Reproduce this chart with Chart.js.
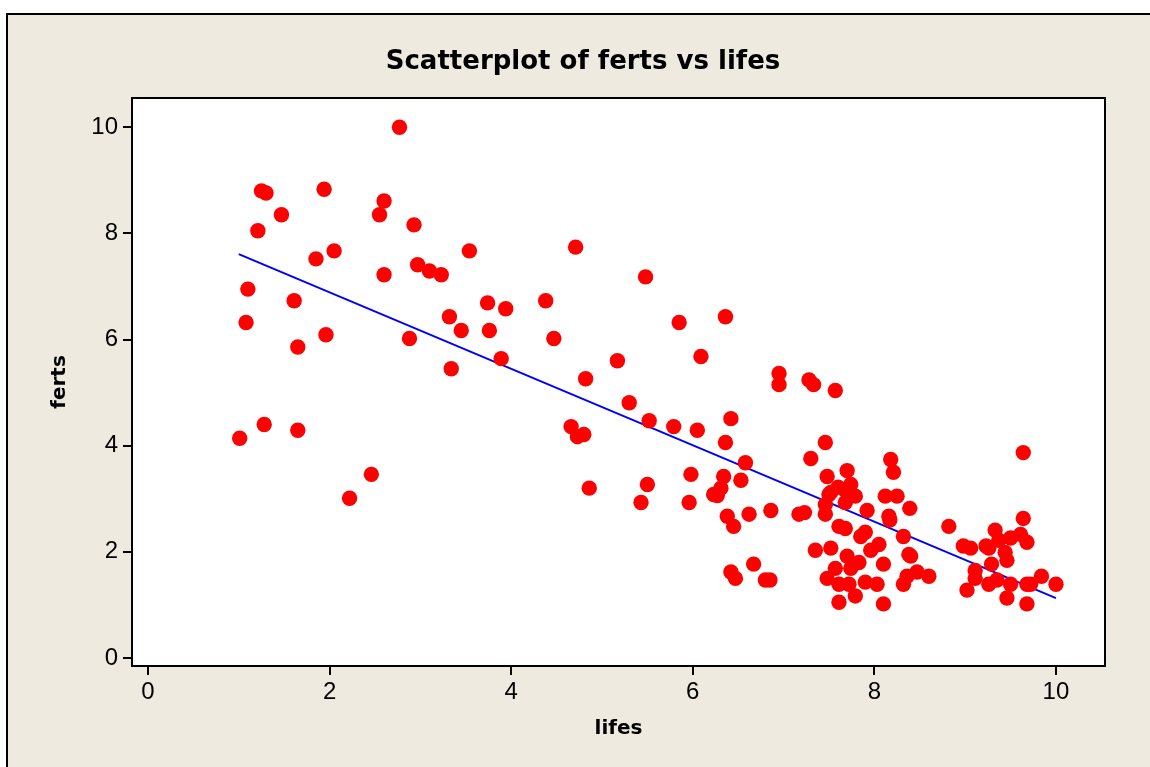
<!DOCTYPE html>
<html>
<head>
<meta charset="utf-8">
<title>Scatterplot of ferts vs lifes</title>
<script src="https://cdn.jsdelivr.net/npm/chart.js@4/dist/chart.umd.min.js"></script>
<style>
  html, body { margin: 0; padding: 0; background: #fff; }
  .frame {
    position: absolute; left: 6px; top: 13px; right: 0; bottom: 0;
    background: #eeeae0;
    border-left: 2px solid #000; border-top: 2px solid #000;
  }
  #chart { position: absolute; left: 0; top: 0; }
</style>
</head>
<body>
<div class="frame"></div>
<canvas id="chart" width="1150" height="767"></canvas>
<script>
// values
const lifes = [
  2.77, 1.25, 1.30, 1.94, 1.47, 1.21, 2.60, 2.55, 2.93, 2.05,
  1.85, 3.54, 2.97, 3.10, 3.23, 2.60, 1.10, 1.61, 1.08, 1.96,
  1.65, 2.88, 3.32, 3.45, 3.34, 1.01, 1.28, 1.65, 2.46, 2.22,
  4.71, 5.48, 3.74, 3.94, 4.38, 3.76, 4.47, 5.85, 6.36, 6.09,
  3.89, 5.17, 4.82, 5.30, 5.52, 5.79, 6.05, 6.42, 6.36, 4.66,
  4.73, 4.80, 6.95, 6.95, 7.28, 7.33, 6.58, 7.30, 4.86, 5.50,
  5.43, 5.98, 5.96, 6.34, 6.31, 6.23, 6.27, 6.53, 6.38, 6.45,
  6.62, 6.86, 7.17, 7.23, 7.57, 7.46, 8.18, 8.21, 7.48, 7.70,
  7.74, 7.68, 7.52, 7.50, 7.79, 7.68, 7.46, 7.46, 8.12, 8.25,
  7.92, 8.16, 8.39, 7.61, 7.68, 7.85, 7.90, 8.05, 7.96, 8.32,
  7.35, 7.52, 7.70, 7.83, 8.10, 8.38, 8.40, 7.57, 7.74, 7.48,
  7.61, 7.72, 7.90, 8.03, 8.32, 7.61, 7.79, 8.10, 6.42, 6.47,
  6.67, 6.80, 6.85, 9.64, 8.82, 9.64, 9.33, 9.50, 9.61, 9.68,
  9.37, 8.98, 9.06, 9.23, 9.26, 9.44, 9.46, 9.29, 9.11, 9.11,
  9.26, 9.35, 9.50, 9.68, 9.72, 9.84, 10.0, 9.02, 9.46, 9.68,
  8.47, 8.36, 8.60, 7.60, 8.17
];
const ferts = [
  10.0, 8.80, 8.76, 8.83, 8.35, 8.05, 8.61, 8.35, 8.16, 7.67,
  7.52, 7.67, 7.41, 7.29, 7.22, 7.22, 6.95, 6.73, 6.32, 6.09,
  5.86, 6.02, 6.43, 6.17, 5.45, 4.14, 4.40, 4.29, 3.46, 3.01,
  7.74, 7.18, 6.69, 6.58, 6.73, 6.17, 6.02, 6.32, 6.43, 5.68,
  5.64, 5.60, 5.26, 4.81, 4.47, 4.36, 4.29, 4.51, 4.06, 4.36,
  4.17, 4.21, 5.36, 5.15, 5.24, 5.15, 3.68, 3.76, 3.20, 3.27,
  2.93, 3.46, 2.93, 3.42, 3.20, 3.08, 3.06, 3.35, 2.67, 2.48,
  2.71, 2.78, 2.71, 2.74, 5.04, 4.06, 3.74, 3.50, 3.42, 3.53,
  3.27, 3.16, 3.12, 3.08, 3.05, 2.93, 2.89, 2.71, 3.05, 3.05,
  2.78, 2.67, 2.82, 2.48, 2.44, 2.29, 2.37, 2.14, 2.03, 2.29,
  2.03, 2.07, 1.92, 1.80, 1.77, 1.95, 1.92, 1.69, 1.69, 1.50,
  1.39, 1.39, 1.43, 1.39, 1.39, 1.05, 1.17, 1.02, 1.62, 1.50,
  1.77, 1.47, 1.47, 3.87, 2.48, 2.63, 2.41, 2.26, 2.33, 2.18,
  2.22, 2.11, 2.07, 2.11, 2.07, 1.99, 1.84, 1.77, 1.65, 1.50,
  1.39, 1.47, 1.39, 1.39, 1.39, 1.54, 1.39, 1.28, 1.13, 1.02,
  1.62, 1.54, 1.54, 3.22, 2.60
];

// fitted line end points, as drawn in the reference
const fitLifes = [1.0, 10.0];
const fitFerts = [7.61, 1.13];

const xTicks = [0, 2, 4, 6, 8, 10];
const yTicks = [0, 2, 4, 6, 8, 10];

const tickFont = { family: 'Liberation Sans', size: 24 };
const titleFont = { family: 'DejaVu Sans', size: 20, weight: 'bold' };

// white plot area with a black frame
const plotFrame = {
  id: 'plotFrame',
  beforeDraw(chart) {
    const { ctx, chartArea: a } = chart;
    ctx.save();
    ctx.fillStyle = '#fff';
    ctx.fillRect(a.left, a.top, a.right - a.left, a.bottom - a.top);
    ctx.restore();
  },
  afterDraw(chart) {
    const { ctx, chartArea: a } = chart;
    ctx.save();
    ctx.strokeStyle = '#000';
    ctx.lineWidth = 2;
    ctx.strokeRect(a.left, a.top, a.right - a.left, a.bottom - a.top);
    ctx.restore();
  }
};

const ctx = document.querySelector('#chart');
new Chart(ctx, {
  type: 'scatter',
  data: {
    datasets: [
      {
        data: lifes.map((x, i) => ({ x: x, y: ferts[i] })),
        backgroundColor: '#ff0000',
        borderWidth: 0,
        pointRadius: 7.7,
        order: 1
      },
      {
        type: 'line',
        data: fitLifes.map((x, i) => ({ x: x, y: fitFerts[i] })),
        borderColor: '#0000ff',
        borderWidth: 2,
        pointRadius: 0,
        fill: false,
        order: 2
      }
    ]
  },
  options: {
    responsive: false,
    devicePixelRatio: 1,
    animation: false,
    layout: { padding: { left: 61, right: 45, top: 0, bottom: 0 } },
    plugins: {
      legend: { display: false },
      tooltip: { enabled: false },
      title: {
        display: true,
        text: 'Scatterplot of ferts vs lifes',
        color: '#000',
        font: { family: 'DejaVu Sans', size: 26, weight: 'bold', lineHeight: '30px' },
        padding: { top: 47, bottom: 21 }
      }
    },
    scales: {
      x: {
        type: 'linear',
        min: -0.176,
        max: 10.54,
        afterBuildTicks: (s) => { s.ticks = xTicks.map(v => ({ value: v })); },
        afterFit: (s) => { s.height = 101; },
        ticks: { color: '#000', font: tickFont, padding: 3, maxRotation: 0 },
        grid: { drawOnChartArea: false, tickLength: 9, color: '#000', lineWidth: 2 },
        border: { display: false },
        title: {
          display: true, text: 'lifes', color: '#000', font: titleFont,
          padding: { top: 0, bottom: 26 }
        }
      },
      y: {
        type: 'linear',
        min: -0.15,
        max: 10.55,
        afterBuildTicks: (s) => { s.ticks = yTicks.map(v => ({ value: v })); },
        afterFit: (s) => { s.width = 71; },
        ticks: { color: '#000', font: tickFont, padding: 5 },
        grid: { drawOnChartArea: false, tickLength: 9, color: '#000', lineWidth: 2 },
        border: { display: false },
        title: {
          display: true, text: 'ferts', color: '#000', font: titleFont,
          padding: { top: -13, bottom: 0 }
        }
      }
    }
  },
  plugins: [plotFrame]
});
</script>
</body>
</html>
